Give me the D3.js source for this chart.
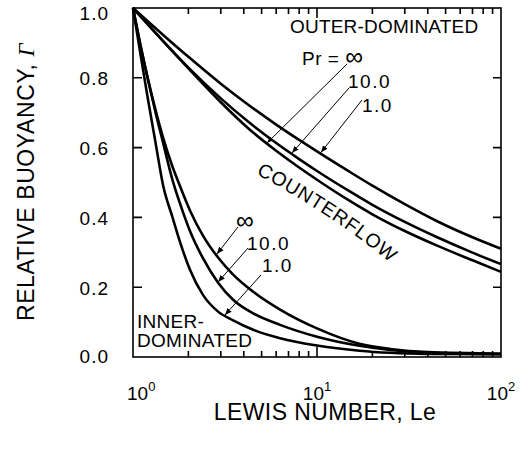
<!DOCTYPE html>
<html>
<head>
<meta charset="utf-8">
<script src="https://cdn.jsdelivr.net/npm/d3@7"></script>
<style>
body { margin: 0; background: #fff; }
text { font-family: "Liberation Sans", Arial, Helvetica, sans-serif; fill: #000; }
</style>
</head>
<body>
<svg width="529" height="450"></svg>
<script>
// Lewis number grids (x values) for the two families of curves
var outerLe = [1, 1.5, 2, 3, 4.3, 6, 8, 10, 15, 20, 30, 45, 70, 100]
var innerLe = [1, 1.1, 1.2, 1.32, 1.46, 1.64, 1.8, 2.04, 2.4, 2.9, 3.5, 4.5, 6.3, 10, 17, 25, 40, 100]

// outer-dominated / counterflow family
var outerPr1   = [1, 0.917, 0.86, 0.783, 0.72, 0.666, 0.622, 0.589, 0.531, 0.491, 0.438, 0.389, 0.343, 0.31]
var outerPr10  = [1, 0.898, 0.829, 0.741, 0.671, 0.613, 0.567, 0.533, 0.475, 0.436, 0.387, 0.343, 0.299, 0.266]
var outerPrInf = [1, 0.898, 0.827, 0.73, 0.652, 0.591, 0.543, 0.508, 0.448, 0.409, 0.361, 0.319, 0.277, 0.244]

// inner-dominated family
var innerPr1   = [1, 0.865, 0.745, 0.62, 0.49, 0.4, 0.33, 0.25, 0.178, 0.13, 0.105, 0.078, 0.054, 0.033, 0.018, 0.012, 0.009, 0.008]
var innerPr10  = [1, 0.89, 0.8, 0.705, 0.612, 0.507, 0.44, 0.361, 0.283, 0.213, 0.164, 0.125, 0.092, 0.058, 0.032, 0.02, 0.012, 0.008]
var innerPrInf = [1, 0.892, 0.801, 0.712, 0.627, 0.545, 0.49, 0.42, 0.348, 0.285, 0.236, 0.187, 0.136, 0.082, 0.038, 0.023, 0.014, 0.01]

var yTicks = [0, 0.2, 0.4, 0.6, 0.8, 1.0]
var yInner = [0.2, 0.4, 0.6, 0.8]
var xDecades = [1, 10, 100]
var xExponents = ["0", "1", "2"]
var xMinor = [2, 3, 4, 5, 6, 7, 8, 9, 20, 30, 40, 50, 60, 70, 80, 90]

// leader lines: [labelLe, labelG, tipLe, tipG]
var outerArrows = [[14.56, 0.8395, 5.35, 0.6132], [14.93, 0.7708, 7.31, 0.5845], [17.56, 0.7364, 10.51, 0.586]]
var innerArrows = [[3.72, 0.3725, 2.86, 0.2951], [4.22, 0.3123, 2.90, 0.215], [4.96, 0.235, 3.16, 0.1203]]

var svg = d3.select("svg")

var plotL = 133, plotR = 501, plotT = 8, plotB = 357

var x = d3.scaleLog().domain([1, 100]).range([plotL, plotR])
var y = d3.scaleLinear().domain([0, 1]).range([plotB, plotT])

var defs = svg.append("defs")
defs.append("marker")
    .attr("id", "head")
    .attr("viewBox", "0 0 10 10")
    .attr("refX", 10).attr("refY", 5)
    .attr("markerWidth", 7).attr("markerHeight", 7)
    .attr("markerUnits", "userSpaceOnUse")
    .attr("orient", "auto")
  .append("path")
    .attr("d", "M0,1 L10,5 L0,9 Z")
    .attr("fill", "#000")

/////////////////
// ticks (all pointing inward), drawn as one path
/////////////////
var xTickVals = xMinor.concat([10])
function tickLen(d) { return d == 10 ? 10 : 6 }

var tickPath = d3.path()
xTickVals.forEach(function(d) {
    tickPath.moveTo(x(d), plotB); tickPath.lineTo(x(d), plotB - tickLen(d))
    tickPath.moveTo(x(d), plotT); tickPath.lineTo(x(d), plotT + tickLen(d))
})
yInner.forEach(function(d) {
    tickPath.moveTo(plotL, y(d)); tickPath.lineTo(plotL + 9, y(d))
    tickPath.moveTo(plotR, y(d)); tickPath.lineTo(plotR - 8, y(d))
})
svg.append("path")
    .attr("d", tickPath.toString())
    .attr("fill", "none")
    .attr("stroke", "#000")
    .attr("stroke-width", 1.6)

// frame
svg.append("rect")
    .attr("x", plotL).attr("y", plotT)
    .attr("width", plotR - plotL).attr("height", plotB - plotT)
    .attr("fill", "none").attr("stroke", "#000").attr("stroke-width", 1.6)

// y tick labels
svg.selectAll(".yl-text")
    .data(yTicks)
    .enter().append("text")
    .attr("x", 109)
    .attr("y", function(d) { return y(d) })
    .attr("dy", function(d) { return d == 1 ? "0.35em" : (d == 0 ? "0.3em" : "0.4em") })
    .attr("transform", function(d) { return d == 1 ? "translate(0,5)" : null })
    .attr("text-anchor", "end")
    .style("font-size", "19px")
    .style("letter-spacing", "1px")
    .text(d3.format(".1f"))

// decade labels 10^n
var xl = svg.selectAll(".xl")
    .data(xDecades)
    .enter().append("text")
    .attr("x", function(d, i) { return i == 0 ? x(d) - 6 : x(d) })
    .attr("y", 400)
    .attr("text-anchor", function(d, i) { return i == 0 ? "start" : "middle" })
    .style("font-size", "19px")
xl.append("tspan").text("10")
xl.append("tspan")
    .attr("dy", -9)
    .style("font-size", "13px")
    .text(function(d, i) { return xExponents[i] })

/////////////////
// curves
/////////////////
var line = d3.line()
    .x(function(d) { return x(d[0]) })
    .y(function(d) { return y(d[1]) })
    .curve(d3.curveMonotoneX)

var series = [
    d3.zip(outerLe, outerPr1), d3.zip(outerLe, outerPr10), d3.zip(outerLe, outerPrInf),
    d3.zip(innerLe, innerPr1), d3.zip(innerLe, innerPr10), d3.zip(innerLe, innerPrInf)
]

svg.append("g").selectAll("path")
    .data(series)
    .enter().append("path")
    .attr("d", line)
    .attr("fill", "none")
    .attr("stroke", "#000")
    .attr("stroke-width", 2.6)
    .attr("stroke-linejoin", "round")

// leader lines with arrow heads
svg.append("g").selectAll("line")
    .data(outerArrows.concat(innerArrows))
    .enter().append("line")
    .attr("x1", function(d) { return x(d[0]) })
    .attr("y1", function(d) { return y(d[1]) })
    .attr("x2", function(d) { return x(d[2]) })
    .attr("y2", function(d) { return y(d[3]) })
    .attr("stroke", "#000")
    .attr("stroke-width", 1)
    .attr("marker-end", "url(#head)")

/////////////////
// annotations
/////////////////
function label(tx, ty, s, size, spacing) {
    return svg.append("text")
        .attr("x", tx).attr("y", ty)
        .style("font-size", size + "px")
        .style("letter-spacing", spacing + "px")
        .text(s)
}

label(290, 33, "OUTER-DOMINATED", 19, 0.2)
var pr = label(302, 65, "Pr = ", 19, 0.5)
pr.append("tspan").style("font-size", "25px").text("\u221E")
label(348, 88, "10.0", 19, 1.5)
label(362, 112, "1.0", 19, 1.5)

label(236, 229, "\u221E", 25, 0)
label(247, 250, "10.0", 19, 1.5)
label(262, 272, "1.0", 19, 1.5)

label(137, 328, "INNER-", 19, 0.3)
label(137, 347, "DOMINATED", 19, 0.3)

// COUNTERFLOW follows the outer curves
defs.append("path")
    .attr("id", "cf")
    .attr("d", "M256,174 Q331.6,214 389,262")
svg.append("text")
    .style("font-size", "19.5px")
    .style("letter-spacing", "0.8px")
  .append("textPath")
    .attr("href", "#cf")
    .text("COUNTERFLOW")

// axis titles
svg.append("text")
    .attr("x", 325).attr("y", 420)
    .attr("text-anchor", "middle")
    .style("font-size", "23px")
    .style("letter-spacing", "0.4px")
    .text("LEWIS NUMBER, Le")

var yt = svg.append("text")
    .attr("transform", "translate(34,182) rotate(-90)")
    .attr("text-anchor", "middle")
    .style("font-size", "23px")
    .style("letter-spacing", "0.6px")
    .text("RELATIVE BUOYANCY, ")
yt.append("tspan")
    .style("font-family", "'Liberation Serif', serif")
    .style("font-style", "italic")
    .text("\u0393")
</script>
</body>
</html>
